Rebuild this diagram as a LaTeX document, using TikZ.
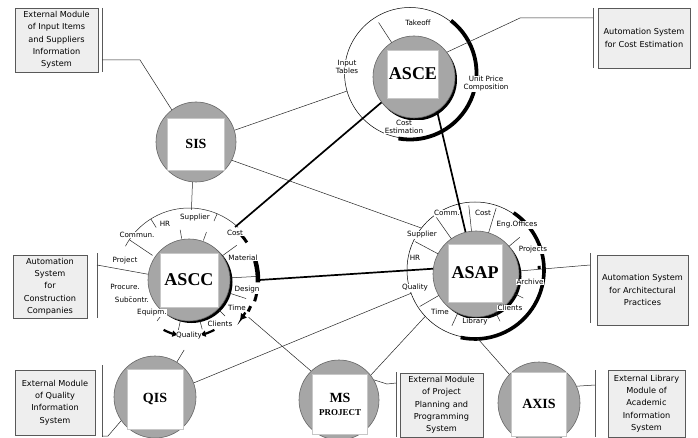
\documentclass[tikz,border=0pt]{standalone}
\usepackage{fontspec}
\setmainfont{Liberation Serif}
\newfontfamily\lab{DejaVu Sans}
\usetikzlibrary{arrows.meta}
\definecolor{cgray}{RGB}{166,166,166}
\definecolor{bgray}{RGB}{238,238,238}
\begin{document}
\begin{tikzpicture}[x=1pt,y=1pt,
  circ/.style={circle,fill=cgray,draw=black!60,line width=0.6,inner sep=0,minimum size=#1},
  sq/.style={fill=white,draw=black!22,line width=0.9,inner sep=0},
  ringn/.style={circle,inner sep=0,minimum size=#1},
  lb/.style={font=\lab\fontsize{7.2}{8}\selectfont,inner sep=0.6,fill=white,align=center},
  bx/.style={draw=black!65,fill=bgray,line width=0.6,font=\lab\fontsize{8.2}{12.3}\selectfont,align=center,inner sep=0},
  thin/.style={line width=0.5,draw=black!85},
  heavy/.style={line width=1.7,draw=black},
  brk/.style={line width=0.7,draw=black!65},
  big/.style={font=\fontsize{18}{18}\selectfont\bfseries},
  mid/.style={font=\fontsize{14}{14}\selectfont\bfseries}]
\useasboundingbox (0,-438) rectangle (698,0);
\fill[white] (0,-438) rectangle (698,0);

% ---------- shadows and outer rings ----------
\fill[black] (416,-79.5) circle (41);
\fill[black] (191.5,-282) circle (41);
\fill[black] (478.5,-276.5) circle (43);

\node[ringn=131,draw,line width=0.5] (asceR) at (410,-73) {};
\draw[line width=3.8] (410,-73) ++(52:66.5) arc (52:-100:66.5);

\node[ringn=140] (asccR) at (189,-280) {};
\draw[thin] (189,-280) ++(47:72) arc (47:152:72);

\node[ringn=136,draw,line width=0.5] (asapR) at (475,-270) {};
\draw[line width=3.6] (475,-270) ++(56:69) arc (56:-102:69);

% ---------- module circles ----------
\node[circ=82] (asce) at (414,-77) {};
\node[sq,minimum width=51,minimum height=48,big] (asceL) at (413,-74) {ASCE};

\node[circ=82] (ascc) at (189,-280) {};
\node[sq,minimum width=58,minimum height=54,big] (asccL) at (189,-280) {ASCC};

\node[circ=86] (asap) at (476,-274) {};
\node[sq,minimum width=54,minimum height=58,big] (asapL) at (475,-273) {ASAP};

\node[circ=80] (sis) at (196,-142) {};
\node[sq,minimum width=57,minimum height=52,mid] (sisL) at (196,-144) {SIS};

\node[circ=82] (qis) at (155,-397) {};
\node[sq,minimum width=56,minimum height=60,mid] (qisL) at (155,-399) {QIS};

\node[circ=80] (ms) at (339,-400) {};
\node[sq,minimum width=55,minimum height=60,align=center] (msL) at (340,-404)
  {{\fontsize{14}{14}\selectfont\bfseries MS}\\[1pt]{\fontsize{9}{9}\selectfont\bfseries PROJECT}};

\node[circ=82] (axis) at (539,-403) {};
\node[sq,minimum width=55,minimum height=64,mid] (axisL) at (539,-404) {AXIS};

% ---------- boxes and brackets ----------
\node[bx,minimum width=83,minimum height=64] (b1) at (56.5,-40)
  {External Module\\of Input Items\\and Suppliers\\Information\\System};
\draw[brk] (102,-8) -- (102,-72);
\coordinate (b1c) at (102,-60);

\node[bx,minimum width=92,minimum height=60] (b2) at (644,-38)
  {Automation System\\for Cost Estimation};
\draw[brk] (593,-8) -- (593,-68);
\coordinate (b2c) at (593,-18);

\node[bx,minimum width=74,minimum height=63] (b3) at (50,-286.5)
  {Automation\\System\\for\\Construction\\Companies};
\draw[brk] (97,-253) -- (97,-318);
\coordinate (b3c) at (97,-265);

\node[bx,minimum width=91,minimum height=70] (b4) at (642.5,-290)
  {Automation System\\for Architectural\\Practices};
\draw[brk] (590,-253) -- (590,-323);
\coordinate (b4c) at (590,-265);

\node[bx,minimum width=80,minimum height=65] (b5) at (55,-402.5)
  {External Module\\of Quality\\Information\\System};
\draw[brk] (102,-365) -- (102,-437);
\coordinate (b5c) at (102,-436);

\node[bx,minimum width=83,minimum height=64] (b6) at (441.5,-405)
  {External Module\\of Project\\Planning and\\Programming\\System};
\draw[brk] (396,-372) -- (396,-437);
\coordinate (b6c) at (396,-383);

\node[bx,minimum width=77,minimum height=67] (b7) at (646.5,-403.5)
  {External Library\\Module of\\Academic\\Information\\System};
\draw[brk] (595,-370) -- (595,-437);
\coordinate (b7c) at (595,-385);

% ---------- connectors ----------
\draw[heavy] (asccR.49) -- (asce.218);
\draw[heavy] (asce.-56) -- (asap.104);
\draw[heavy] (asccR.0) -- (asap.173);
\draw[thin] (ascc.3) -- (asccR.3);
\draw[thin] (sis.17) -- (asceR.196);
\draw[thin] (sis.-27) -- (asapR.142);
\draw[thin] (sis.-95) -- (asccR.88);
\draw[thin] (qis.58) -- (asccR.266);
\draw[thin] (qis.20) -- (asapR.200);
\draw[thin] (ms.134) -- (asccR.328);
\draw[thin] (ms.38) -- (asapR.223);
\draw[thin] (axis.136) -- (asapR.-88);

\draw[thin] (b1c) -- (140,-60) -- (sis.127);
\draw[thin] (b2c) -- (520,-18) -- (asce.37);
\draw[thin] (b3c) -- (ascc.172);
\draw[thin] (b4c) -- (asap.4);
\draw[line width=3] (476,-274) ++(6:62) -- ++(6:3);
\draw[thin] (b5c) -- (108,-436) -- (qis.215);
\draw[thin] (b6c) -- (387,-384) -- (ms.30);
\draw[thin] (b7c) -- (axis.24);

% ---------- ring dividers ----------
\draw[thin] (414,-77) ++(123:41) -- ++(123:24);

\foreach \a/\r/\l in {100/42/9, 70/42/9, 67/64/8, 122/62/10, 36/42/17, 342/42/18,
  315/42/9, 285/42/9, 258/42/9, 232/44/8, 196/60/5, 146/44/28}
  \draw[thin] (189,-280) ++(\a:\r) -- ++(\a:\l);

\foreach \a/\r/\l in {96/43/26, 73/43/26, 125/43/26, 40/43/14, -27/43/10,
  -63/43/10, -115/43/14, 210/43/22, 152/43/26}
  \draw[thin] (476,-274) ++(\a:\r) -- ++(\a:\l);

% ---------- ASCC thick arc pieces ----------
\draw[line width=3] (189,-280) ++(41:69) arc (41:33:69);
\draw[line width=4.5] (189,-280) ++(16:69) arc (16:-2:69);
\draw[line width=3] (189,-280) ++(-11:69) arc (-11:-18:69);
\draw[line width=3] (189,-280) ++(-23:67) arc (-23:-28:67);
\draw[line width=2.4,-{Triangle[length=6,width=7]}] (189,-280) ++(-30:65) arc (-30:-38:65);
\draw[line width=2.2,-{Triangle[length=5,width=6]}] (189,-280) ++(243:56) arc (243:258:56);
\draw[line width=2.2,-{Triangle[length=5,width=6]}] (189,-280) ++(297:56) arc (297:282:56);

% ---------- ring labels ----------
\node[lb] (e1) at (418,-23) {Takeoff};
\node[lb] (e2) at (347,-67) {Input\\Tables};
\node[lb] (e3) at (486,-84) {Unit Price\\Composition};
\node[lb] (e4) at (404,-127) {Cost\\Estimation};

\node[lb] (c1) at (195,-218) {Supplier};
\node[lb] (c2) at (165,-224) {HR};
\node[lb] (c3) at (137,-235) {Commun.};
\node[lb] (c4) at (125,-261) {Project};
\node[lb] (c5) at (125,-287) {Procure.};
\node[lb] (c6) at (132,-300) {Subcontr.};
\node[lb] (c7) at (152,-313) {Equipm.};
\node[lb] (c8) at (189,-336) {Quality};
\node[lb] (c9) at (220,-324) {Clients};
\node[lb] (c10) at (237,-308) {Time};
\node[lb] (c11) at (247,-290) {Design};
\node[lb] (c12) at (243,-258) {Material};
\node[lb] (c13) at (235,-233) {Cost};

\node[lb] (p1) at (447,-213) {Comm.};
\node[lb] (p2) at (483,-213) {Cost};
\node[lb] (p3) at (517,-225) {Eng.Offices};
\node[lb] (p4) at (533,-250) {Projects};
\node[lb] (p5) at (530,-282) {Archive};
\node[lb] (p6) at (510,-308) {Clients};
\node[lb] (p7) at (475,-322) {Library};
\node[lb] (p8) at (440,-312) {Time};
\node[lb] (p9) at (415,-288) {Quality};
\node[lb] (p10) at (415,-258) {HR};
\node[lb] (p11) at (422,-235) {Supplier};
\end{tikzpicture}
\end{document}
